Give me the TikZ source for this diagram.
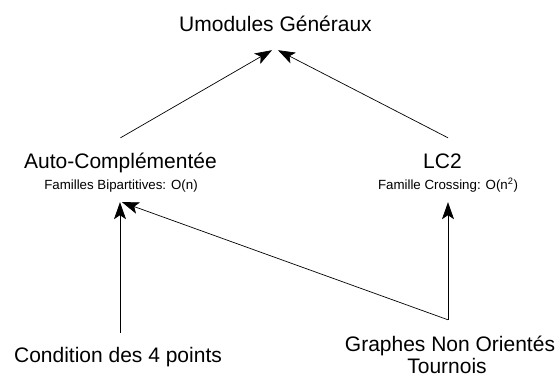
\documentclass[tikz,border=0pt]{standalone}
\usepackage{fontspec}
\setmainfont{Liberation Sans}
\usetikzlibrary{arrows.meta}
\begin{document}
\begin{tikzpicture}[x=1pt,y=1pt,
  main/.style={font=\fontsize{21}{23}\selectfont, inner sep=0pt, anchor=base,
               text height=15pt, text depth=4pt},
  sub/.style={font=\fontsize{13.3}{15}\selectfont, inner sep=0pt, anchor=base,
              text height=10pt, text depth=3pt},
  arr/.style={draw=black, line width=0.7pt,
              -{Stealth[length=17pt,width=12pt,inset=4pt]}}]
  \useasboundingbox (0,0) rectangle (555,378);

  % concepts
  \node[main] (umod)  at (275.5,346) {Umodules Généraux};
  \node[main] (autoT) at (120.5,209) {Auto-Complémentée};
  \node[sub]  (autoS) at (121,188)   {Familles Bipartitives: O(n)};
  \node[main] (lc2T)  at (442.5,209) {LC2};
  \node[sub]  (lc2S)  at (448,188)   {Famille Crossing: O(n\textsuperscript{2})};
  \node[main] (cond)  at (118,15)    {Condition des 4 points};
  \node[main] (graph) at (450,27)    {Graphes Non Orientés};
  \node[main] (tour)  at (447,4)     {Tournois};

  % inclusions
  \draw[arr] ([yshift=16pt]autoT.north) -- ([xshift=-3.5pt,yshift=-14pt]umod.south);
  \draw[arr] ([xshift=5.5pt,yshift=16pt]lc2T.north) -- ([xshift=2.5pt,yshift=-14pt]umod.south);
  \draw[arr] ([xshift=2pt,yshift=15pt]cond.north) -- ([xshift=-1pt,yshift=-9pt]autoS.south);
  \draw[arr] ([xshift=-2pt,yshift=16pt]graph.north) -- ([yshift=-9pt]lc2S.south);
  \draw[arr] ([xshift=-2pt,yshift=16pt]graph.north) -- ([xshift=1pt,yshift=-9pt]autoS.south);
\end{tikzpicture}
\end{document}
